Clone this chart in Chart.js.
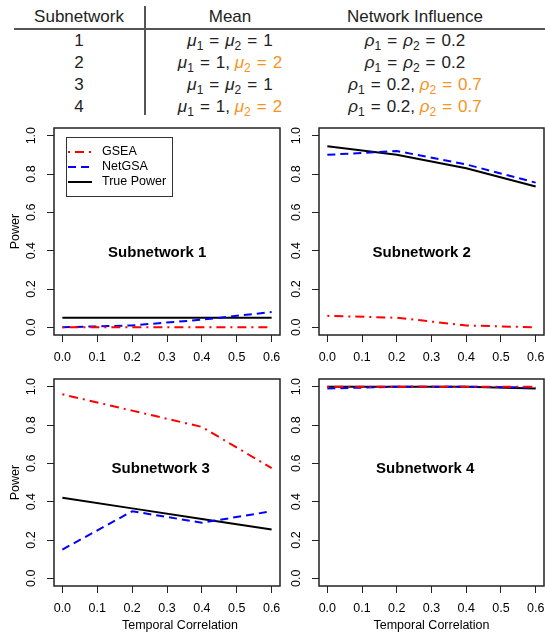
<!DOCTYPE html>
<html>
<head>
<meta charset="utf-8">
<script src="https://cdn.jsdelivr.net/npm/chart.js@4.4.1/dist/chart.umd.min.js"></script>
<style>
body{margin:0;width:545px;height:632px;position:relative;background:#fff;overflow:hidden;font-family:"Liberation Sans",Arial,sans-serif}
.caja{position:absolute}
.t{position:absolute;font-size:17px;color:#222;white-space:nowrap;transform:translate(-50%,-50%);line-height:1}
.o{color:#f7931e}
.eq{margin:0 6px}
sub{font-size:12px;vertical-align:-4px;line-height:0}
.raya{position:absolute;background:#555}
</style>
</head>
<body>
<div id="tabla"></div>
<div class="raya" style="left:14px;top:28px;width:531px;height:2px"></div>
<div class="raya" style="left:144px;top:6px;width:2px;height:109px"></div>
<div class="caja" style="left:0;top:110px"><canvas id="p1" width="282" height="255"></canvas></div>
<div class="caja" style="left:270px;top:110px"><canvas id="p2" width="275" height="255"></canvas></div>
<div class="caja" style="left:0;top:365px"><canvas id="p3" width="282" height="267"></canvas></div>
<div class="caja" style="left:270px;top:365px"><canvas id="p4" width="275" height="267"></canvas></div>
<script>
// datos
const correlacion=[0,0.2,0.4,0.6];
const ticksX=[0,0.1,0.2,0.3,0.4,0.5,0.6];
const ticksY=[0,0.2,0.4,0.6,0.8,1.0];
const metodos=["GSEA","NetGSA","True Power"];
const gsea1=[0,0,0,0],netgsa1=[0,0.01,0.04,0.08],verdad1=[0.05,0.05,0.05,0.05];
const gsea2=[0.06,0.05,0.01,0.0],netgsa2=[0.9,0.92,0.85,0.755],verdad2=[0.945,0.9,0.83,0.735];
const gsea3=[0.96,0.875,0.79,0.575],netgsa3=[0.15,0.35,0.29,0.35],verdad3=[0.42,0.365,0.31,0.255];
const gsea4=[1,1,1,1],netgsa4=[0.99,1,1,0.995],verdad4=[1,1,1,0.99];

// tabla de arriba
const g=s=>`<i>${s}</i>`;
const eq='<span class="eq">=</span>';
const encabezado=["Subnetwork","Mean","Network Influence"];
const filas=[
  ["1",`${g("μ")}<sub>1</sub>${eq}${g("μ")}<sub>2</sub>${eq}1`,`${g("ρ")}<sub>1</sub>${eq}${g("ρ")}<sub>2</sub>${eq}0.2`],
  ["2",`${g("μ")}<sub>1</sub>${eq}1, <span class="o">${g("μ")}<sub>2</sub>${eq}2</span>`,`${g("ρ")}<sub>1</sub>${eq}${g("ρ")}<sub>2</sub>${eq}0.2`],
  ["3",`${g("μ")}<sub>1</sub>${eq}${g("μ")}<sub>2</sub>${eq}1`,`${g("ρ")}<sub>1</sub>${eq}0.2, <span class="o">${g("ρ")}<sub>2</sub>${eq}0.7</span>`],
  ["4",`${g("μ")}<sub>1</sub>${eq}1, <span class="o">${g("μ")}<sub>2</sub>${eq}2</span>`,`${g("ρ")}<sub>1</sub>${eq}0.2, <span class="o">${g("ρ")}<sub>2</sub>${eq}0.7</span>`]
];
const colX=[79,230,415];
const filaY=[40,62,84,106];
let html="";
encabezado.forEach((h,j)=>{html+=`<div class="t" style="left:${colX[j]}px;top:16px">${h}</div>`;});
filas.forEach((f,i)=>f.forEach((c,j)=>{html+=`<div class="t" style="left:${colX[j]}px;top:${filaY[i]}px">${c}</div>`;}));
document.getElementById("tabla").innerHTML=html;

// estilo R
const fuente='"Liberation Sans", Arial, sans-serif';
const estilos=[
  {borderColor:"#ff0000",borderDash:[2,5,9,5]},
  {borderColor:"#0000ff",borderDash:[8,5]},
  {borderColor:"#000000",borderDash:[]}
];

const marcoR={
  id:"marcoR",
  afterDraw(chart){
    const {ctx,chartArea:a,scales:{x,y}}=chart;
    const o=chart.options.plugins.marcoR;
    ctx.save();
    ctx.strokeStyle="#222";ctx.lineWidth=1.5;ctx.setLineDash([]);
    ctx.strokeRect(a.left,a.top,a.right-a.left,a.bottom-a.top);
    ctx.fillStyle="#000";ctx.font="12.5px "+fuente;ctx.textAlign="center";ctx.textBaseline="middle";
    y.ticks.forEach(t=>{
      ctx.save();
      ctx.translate(a.left-22,y.getPixelForValue(t.value));
      ctx.rotate(-Math.PI/2);
      ctx.fillText(t.value.toFixed(1),0,0);
      ctx.restore();
    });
    if(o.tituloX){
      ctx.font="12.5px "+fuente;
      ctx.fillText("Temporal Correlation",(a.left+a.right)/2+o.dx,a.bottom+40);
    }
    ctx.font="bold 15px "+fuente;
    ctx.fillText(o.titulo,x.getPixelForValue(o.tx),y.getPixelForValue(o.ty));
    if(o.leyenda){
      const bx=a.left+12,by=a.top+9;
      ctx.lineWidth=1;ctx.strokeStyle="#333";
      ctx.strokeRect(bx+0.5,by+0.5,106,59);
      ctx.font="12.5px "+fuente;ctx.textAlign="left";
      chart.data.datasets.forEach((d,i)=>{
        const ly=by+15+i*15;
        ctx.beginPath();ctx.strokeStyle=d.borderColor;ctx.lineWidth=2;ctx.setLineDash(d.borderDash);
        ctx.moveTo(bx+2,ly);ctx.lineTo(bx+26,ly);ctx.stroke();
        ctx.setLineDash([]);
        ctx.fillStyle="#000";ctx.fillText(d.label,bx+36,ly);
      });
    }
    ctx.restore();
  }
};

function panel(id,series,cfg){
  const datasets=series.map((s,i)=>({
    label:metodos[i],
    data:correlacion.map((c,k)=>({x:c,y:s[k]})),
    borderColor:estilos[i].borderColor,
    borderDash:estilos[i].borderDash,
    borderWidth:2,
    pointRadius:0,
    tension:0,
    fill:false
  }));
  new Chart(document.getElementById(id),{
    type:"line",
    data:{datasets},
    options:{
      responsive:false,
      animation:false,
      layout:{padding:{top:cfg.T,right:cfg.R,left:0,bottom:0}},
      plugins:{legend:{display:false},tooltip:{enabled:false},
        marcoR:{titulo:cfg.titulo,tx:cfg.tx,ty:cfg.ty,leyenda:cfg.leyenda,tituloX:cfg.tituloX,dx:cfg.dx||0}},
      scales:{
        x:{
          type:"linear",min:-0.024,max:0.624,
          afterBuildTicks:s=>{s.ticks=ticksX.map(v=>({value:v}));},
          afterFit:s=>{s.height=cfg.B;s.paddingLeft=0;s.paddingRight=0;},
          grid:{drawOnChartArea:false,drawTicks:true,tickLength:7,color:"#222",lineWidth:1},
          border:{display:false},
          ticks:{color:"#000",padding:8,maxRotation:0,autoSkip:false,font:{size:12.5,family:fuente},callback:v=>v.toFixed(1)}
        },
        y:{
          type:"linear",min:-0.04,max:1.04,
          afterBuildTicks:s=>{s.ticks=ticksY.map(v=>({value:v}));},
          afterFit:s=>{s.width=cfg.L;s.paddingTop=0;s.paddingBottom=0;},
          grid:{drawOnChartArea:false,drawTicks:true,tickLength:7,color:"#222",lineWidth:1},
          border:{display:false},
          ticks:{color:"rgba(0,0,0,0)",font:{size:12,family:fuente},callback:v=>v.toFixed(1)},
          title:{display:cfg.tituloY,text:"Power",color:"#000",font:{size:12.5,family:fuente},padding:{top:8,bottom:0}}
        }
      }
    },
    plugins:[marcoR]
  });
}

panel("p1",[gsea1,netgsa1,verdad1],{T:18,R:2,L:54,B:30,titulo:"Subnetwork 1",tx:0.272,ty:0.39,leyenda:true,tituloX:false,tituloY:true});
panel("p2",[gsea2,netgsa2,verdad2],{T:18,R:1,L:49,B:30,titulo:"Subnetwork 2",tx:0.272,ty:0.39,leyenda:false,tituloX:false,tituloY:false});
panel("p3",[gsea3,netgsa3,verdad3],{T:14,R:2,L:54,B:46,titulo:"Subnetwork 3",tx:0.282,ty:0.57,leyenda:false,tituloX:true,dx:13,tituloY:true});
panel("p4",[gsea4,netgsa4,verdad4],{T:14,R:1,L:49,B:46,titulo:"Subnetwork 4",tx:0.282,ty:0.57,leyenda:false,tituloX:true,dx:0,tituloY:false});
</script>
</body>
</html>
